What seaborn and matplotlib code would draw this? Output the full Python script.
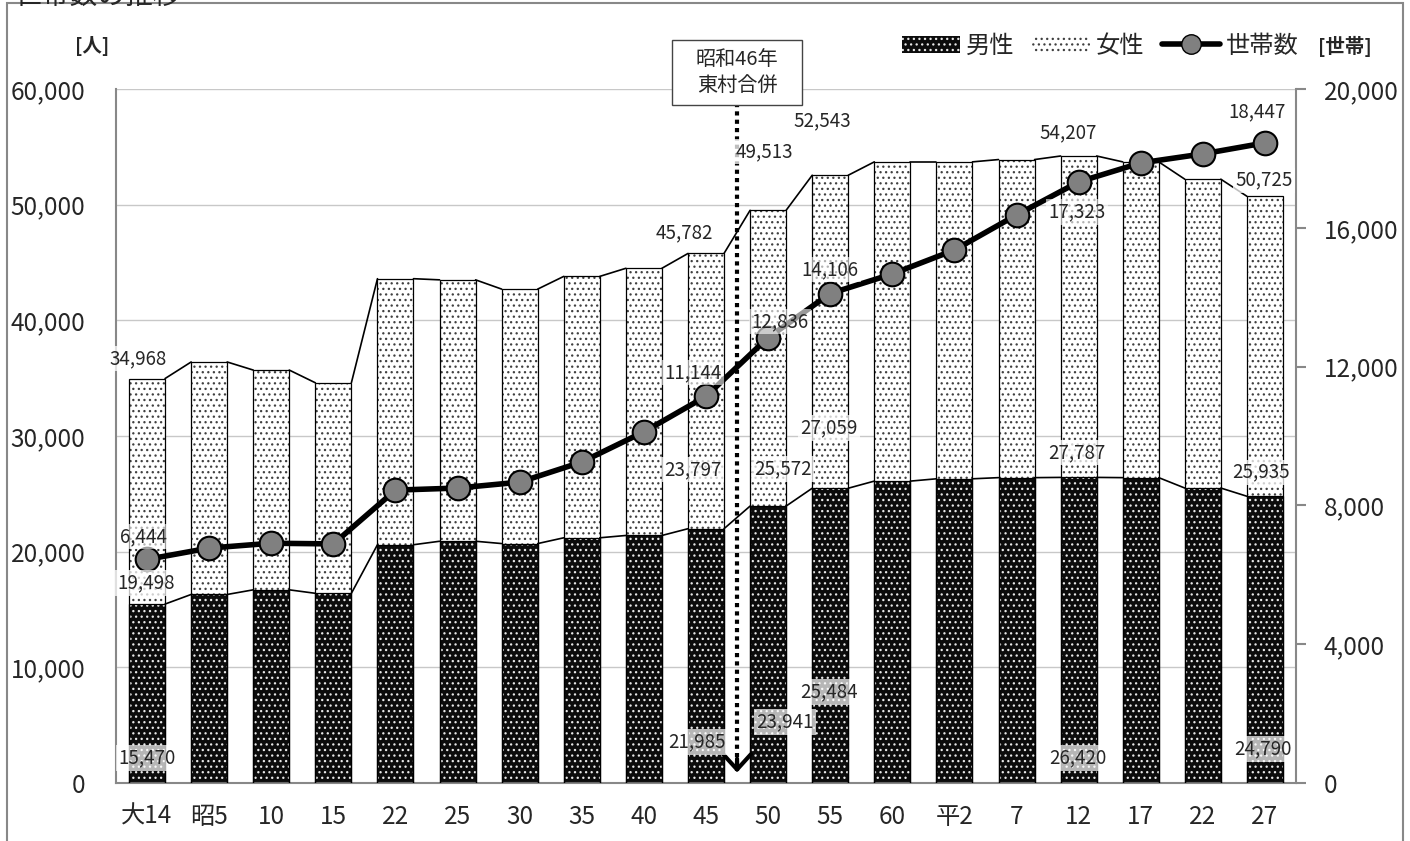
import numpy as np
import matplotlib
matplotlib.use("Agg")
import matplotlib.pyplot as plt
import seaborn as sns
from matplotlib.patches import Rectangle, Patch
from matplotlib.lines import Line2D
from matplotlib.ticker import FuncFormatter

# data
years = ["大14", "昭5", "昭10", "昭15", "昭22", "昭25", "昭30", "昭35", "昭40", "昭45",
         "昭50", "昭55", "昭60", "平2", "平7", "平12", "平17", "平22", "平27"]
tick_labels = ["大14", "昭5", "10", "15", "22", "25", "30", "35", "40", "45",
               "50", "55", "60", "平2", "7", "12", "17", "22", "27"]
male = [15470, 16300, 16700, 16400, 20600, 20900, 20700, 21200, 21400, 21985,
        23941, 25484, 26100, 26300, 26400, 26420, 26400, 25500, 24790]
female = [19498, 20100, 19000, 18200, 23000, 22600, 22000, 22600, 23100, 23797,
          25572, 27059, 27600, 27400, 27500, 27787, 27300, 26700, 25935]
households = [6444, 6770, 6910, 6890, 8440, 8500, 8670, 9250, 10120, 11144,
              12836, 14106, 14670, 15360, 16370, 17323, 17870, 18130, 18447]
labeled = [0, 9, 10, 11, 15, 18]

total = [m + f for m, f in zip(male, female)]
n = len(years)
pos = np.arange(n)

sns.set_style("white")
plt.rcParams["font.family"] = ["Noto Sans CJK JP", "DejaVu Sans"]
plt.rcParams["hatch.linewidth"] = 0.9

fig = plt.figure(figsize=(14.1, 8.41), dpi=100)
ax = fig.add_axes([116/1410, 1-783/841, 1180/1410, 694/841])

w = 0.58
sns.barplot(x=years, y=total, color="white", saturation=1, width=w, errorbar=None, ax=ax)
sns.barplot(x=years, y=male, color="#111111", saturation=1, width=w, errorbar=None, ax=ax)
fem_bars = ax.patches[:n]
male_bars = ax.patches[n:2*n]
for p in fem_bars:
    p.set_facecolor("white")
    p.set_edgecolor("#404040")
    p.set_hatch("...")
    p.set_linewidth(0)
for p in male_bars:
    p.set_facecolor("#0c0c0c")
    p.set_edgecolor("#e8e8e8")
    p.set_hatch("...")
    p.set_linewidth(0)
for p in fem_bars + male_bars:
    ax.add_patch(Rectangle(p.get_xy(), p.get_width(), p.get_height(), fill=False,
                           ec="black", lw=0.9, zorder=3))

# series connector lines
for vals in (total, male):
    for i in range(n - 1):
        ax.plot([i + w/2, i + 1 - w/2], [vals[i], vals[i+1]], color="black", lw=1.2, zorder=3)

ax.set_xlim(-0.5, n - 0.5)
ax.set_ylim(0, 60000)
ax.set_yticks(range(0, 60001, 10000))
ax.yaxis.set_major_formatter(FuncFormatter(lambda v, _: f"{int(v):,}"))
ax.set_xticks(pos)
ax.set_xticklabels(tick_labels)
ax.tick_params(axis="y", length=0, pad=22, labelsize=17.5)
ax.tick_params(axis="x", length=0, pad=15, labelsize=17.5)
ax.grid(axis="y", color="#c8c8c8", lw=1)
ax.set_axisbelow(True)
for s in ["top", "right"]:
    ax.spines[s].set_visible(False)
for s in ["left", "bottom"]:
    ax.spines[s].set_color("#888888")
    ax.spines[s].set_linewidth(1.5)
ax.set_xlabel("")
ax.set_ylabel("")

# households on the right axis
ax2 = ax.twinx()
sns.lineplot(x=pos, y=households, ax=ax2, color="black", lw=4, marker="o", markersize=17,
             markerfacecolor="#808080", markeredgecolor="black", markeredgewidth=1.5, zorder=5)
ax2.set_ylim(0, 20000)
ax2.set_yticks(range(0, 20001, 4000))
ax2.yaxis.set_major_formatter(FuncFormatter(lambda v, _: f"{int(v):,}"))
ax2.tick_params(axis="y", length=7, width=1.5, color="#888888", pad=13, labelsize=17.5)
ax2.grid(False)
for s in ["top", "left", "bottom"]:
    ax2.spines[s].set_visible(False)
ax2.spines["right"].set_color("#888888")
ax2.spines["right"].set_linewidth(1.5)
ax2.set_ylabel("")
ax2.set_xlim(-0.5, n - 0.5)

# merger marker
mpos = years.index("昭45") + 0.5
ax2.plot([mpos, mpos], [19600, 350], color="black", lw=3, linestyle=(0, (1, 1)), zorder=6)
ax2.annotate("", xy=(mpos, 300), xytext=(mpos, 700),
             arrowprops=dict(arrowstyle="->,head_length=0.55,head_width=0.5", lw=3,
                             color="black", mutation_scale=20, shrinkA=0, shrinkB=0), zorder=6)
ax2.add_patch(Rectangle((mpos - 1.04, 19530), 2.08, 1870, fc="white", ec="#444444", lw=1,
                        clip_on=False, zorder=7))
ax2.text(mpos, 20470, "昭和46年\n東村合併", ha="center", va="center", fontsize=14.5,
         linespacing=1.35, zorder=8, clip_on=False)

# data labels
lab_font = 13.5
def put(text, xy, dxdy, coords, alpha):
    ax2.annotate(text, xy=xy, xycoords=coords, xytext=dxdy, textcoords="offset pixels",
                 ha="center", va="center", fontsize=lab_font, zorder=9,
                 bbox=dict(boxstyle="square,pad=0.12", fc="white", ec="none", alpha=alpha))

tot_off = {0: (-9, 20), 9: (-22, 21), 10: (-4, 59), 11: (-8, 54), 15: (-10, 23), 18: (-1, 16)}
hh_off = {0: (-4, 23), 9: (-13, 24), 10: (12, 16), 11: (0, 24), 15: (-2, -30), 18: (-8, 31)}
fem_off = {0: (-1, 21), 9: (-13, 59), 10: (15, 37), 11: (-1, 60), 15: (-2, 25), 18: (-4, 24)}
male_off = {0: (0, 25), 9: (-9, 41), 10: (17, 61), 11: (-1, 91), 15: (-1, 25), 18: (-2, 34)}
for i in labeled:
    put(f"{total[i]:,}", (i, total[i]), tot_off[i], ax.transData, 0.75)
    put(f"{households[i]:,}", (i, households[i]), hh_off[i], ax2.transData, 0.6)
    put(f"{female[i]:,}", (i, male[i]), fem_off[i], ax.transData, 0.75)
    put(f"{male[i]:,}", (i, 0), male_off[i], ax.transData, 0.7)

# legend
handles = [Patch(facecolor="#0c0c0c", edgecolor="#e8e8e8", hatch="...", lw=0),
           Patch(facecolor="white", edgecolor="#404040", hatch="...", lw=0),
           Line2D([], [], color="black", lw=4, marker="o", markersize=14,
                  markerfacecolor="#808080", markeredgecolor="black")]
fig.legend(handles, ["男性", "女性", "世帯数"], loc="center left",
           bbox_to_anchor=(880/1410, 1-46/841), ncol=3, frameon=False, fontsize=17.5,
           handlelength=2.4, handleheight=0.7, columnspacing=0.7, handletextpad=0.25)

fig.text(92/1410, 1-46/841, "[人]", ha="center", va="center", fontsize=14, fontweight="bold")
fig.text(1345/1410, 1-46/841, "[世帯]", ha="center", va="center", fontsize=14, fontweight="bold")
fig.text(15/1410, 1-4/841, "世帯数の推移", ha="left", va="baseline", fontsize=20)
fig.add_artist(Rectangle((7/1410, -0.05), 1396/1410, 1.05 - 3/841, transform=fig.transFigure,
                         fill=False, ec="#888888", lw=1.5))

fig.savefig("out.png", dpi=100)
